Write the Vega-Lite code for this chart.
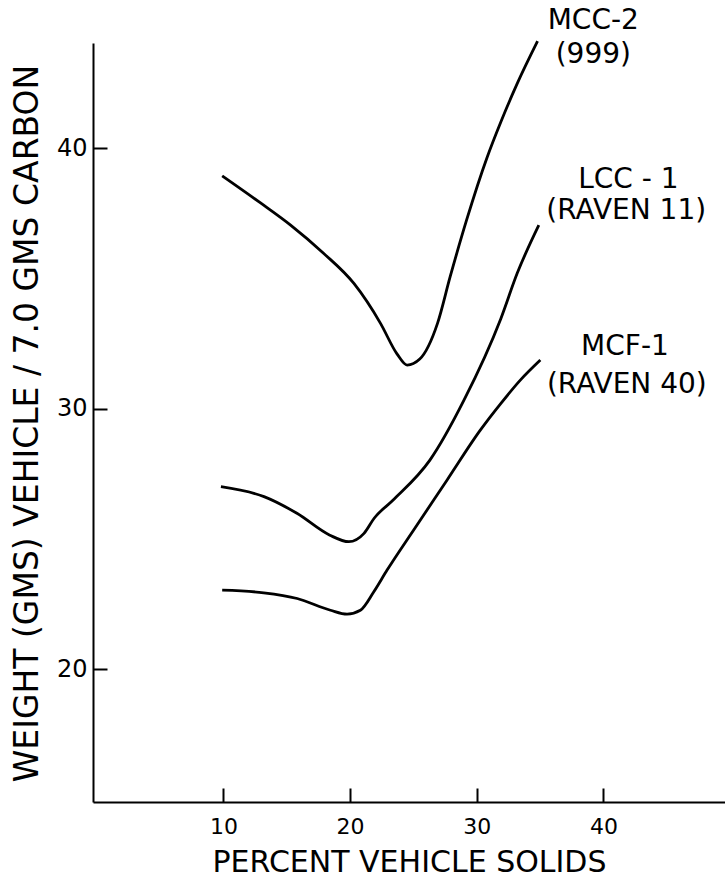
{
  "$schema": "https://vega.github.io/schema/vega-lite/v6.json",
  "width": 632,
  "height": 759,
  "autosize": {"type": "none"},
  "padding": {"left": 93, "top": 43, "right": 0, "bottom": 75},
  "background": "white",
  "config": {
    "view": {"stroke": null},
    "font": "DejaVu Sans",
    "axis": {
      "grid": false,
      "domainColor": "black",
      "domainWidth": 2,
      "tickColor": "black",
      "tickWidth": 2,
      "labelColor": "black",
      "titleColor": "black",
      "labelFont": "DejaVu Sans",
      "titleFont": "DejaVu Sans",
      "titleFontWeight": "normal",
      "labelFontWeight": "normal"
    }
  },
  "datasets": {
    "curves": [
      {"series": "MCC-2", "solids": 9.9, "weight": 38.93},
      {"series": "MCC-2", "solids": 12.9, "weight": 37.9},
      {"series": "MCC-2", "solids": 15.3, "weight": 37.04},
      {"series": "MCC-2", "solids": 17.9, "weight": 35.96},
      {"series": "MCC-2", "solids": 20.3, "weight": 34.8},
      {"series": "MCC-2", "solids": 22.4, "weight": 33.27},
      {"series": "MCC-2", "solids": 23.7, "weight": 32.1},
      {"series": "MCC-2", "solids": 24.5, "weight": 31.67},
      {"series": "MCC-2", "solids": 25.5, "weight": 31.9},
      {"series": "MCC-2", "solids": 26.9, "weight": 33.27},
      {"series": "MCC-2", "solids": 27.9, "weight": 35.06},
      {"series": "MCC-2", "solids": 29.2, "weight": 37.24},
      {"series": "MCC-2", "solids": 30.8, "weight": 39.62},
      {"series": "MCC-2", "solids": 31.9, "weight": 41.0},
      {"series": "MCC-2", "solids": 33.2, "weight": 42.48},
      {"series": "MCC-2", "solids": 34.8, "weight": 44.1},
      {"series": "LCC-1", "solids": 9.8, "weight": 27.0},
      {"series": "LCC-1", "solids": 13.2, "weight": 26.62},
      {"series": "LCC-1", "solids": 15.8, "weight": 25.98},
      {"series": "LCC-1", "solids": 18.4, "weight": 25.14},
      {"series": "LCC-1", "solids": 19.9, "weight": 24.89},
      {"series": "LCC-1", "solids": 21.1, "weight": 25.21},
      {"series": "LCC-1", "solids": 21.9, "weight": 25.79},
      {"series": "LCC-1", "solids": 23.4, "weight": 26.49},
      {"series": "LCC-1", "solids": 26.3, "weight": 28.02},
      {"series": "LCC-1", "solids": 29.0, "weight": 30.33},
      {"series": "LCC-1", "solids": 31.9, "weight": 33.45},
      {"series": "LCC-1", "solids": 33.2, "weight": 35.2},
      {"series": "LCC-1", "solids": 34.9, "weight": 37.04},
      {"series": "MCF-1", "solids": 9.9, "weight": 23.03},
      {"series": "MCF-1", "solids": 13.18, "weight": 22.93},
      {"series": "MCF-1", "solids": 15.82, "weight": 22.71},
      {"series": "MCF-1", "solids": 18.45, "weight": 22.26},
      {"series": "MCF-1", "solids": 19.76, "weight": 22.11},
      {"series": "MCF-1", "solids": 20.81, "weight": 22.26},
      {"series": "MCF-1", "solids": 21.86, "weight": 22.96},
      {"series": "MCF-1", "solids": 22.92, "weight": 23.8},
      {"series": "MCF-1", "solids": 25.02, "weight": 25.34},
      {"series": "MCF-1", "solids": 27.66, "weight": 27.26},
      {"series": "MCF-1", "solids": 30.28, "weight": 29.17},
      {"series": "MCF-1", "solids": 31.86, "weight": 30.17},
      {"series": "MCF-1", "solids": 33.44, "weight": 31.09},
      {"series": "MCF-1", "solids": 35.02, "weight": 31.86}
    ],
    "labels": [
      {"x": 39.2, "y": 44.88, "text": "MCC-2"},
      {"x": 39.2, "y": 43.57, "text": "(999)"},
      {"x": 41.97, "y": 38.77, "text": "LCC - 1"},
      {"x": 41.8, "y": 37.58, "text": "(RAVEN 11)"},
      {"x": 41.7, "y": 32.36, "text": "MCF-1"},
      {"x": 41.85, "y": 30.9, "text": "(RAVEN 40)"}
    ]
  },
  "layer": [
    {
      "data": {"name": "curves"},
      "mark": {"type": "line", "interpolate": "monotone", "color": "black", "strokeWidth": 2.8},
      "encoding": {
        "x": {
          "field": "solids",
          "type": "quantitative",
          "scale": {"domain": [-0.3, 49.6], "nice": false, "zero": false},
          "axis": {
            "values": [10, 20, 30, 40],
            "tickSize": -14,
            "labelFontSize": 22,
            "labelPadding": 28,
            "title": "PERCENT VEHICLE SOLIDS",
            "titleFontSize": 30,
            "titleY": 60,
            "titleBaseline": "middle"
          }
        },
        "y": {
          "field": "weight",
          "type": "quantitative",
          "scale": {"domain": [14.9, 44.03], "nice": false, "zero": false},
          "axis": {
            "values": [20, 30, 40],
            "tickSize": -14,
            "labelFontSize": 24,
            "labelPadding": 20,
            "title": "WEIGHT (GMS) VEHICLE / 7.0 GMS CARBON",
            "titleFontSize": 33,
            "titleX": -66,
            "titleY": 380,
            "titleBaseline": "middle"
          }
        },
        "detail": {"field": "series"}
      }
    },
    {
      "data": {"name": "labels"},
      "mark": {"type": "text", "fontSize": 28, "align": "center", "baseline": "middle", "color": "black"},
      "encoding": {
        "x": {"field": "x", "type": "quantitative"},
        "y": {"field": "y", "type": "quantitative"},
        "text": {"field": "text"}
      }
    }
  ]
}
